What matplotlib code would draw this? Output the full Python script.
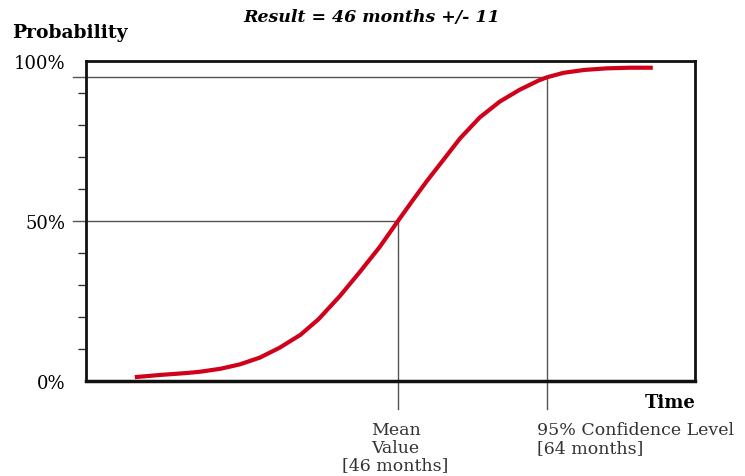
import matplotlib
matplotlib.use("Agg")
import matplotlib.pyplot as plt

plt.rcParams["font.family"] = "DejaVu Serif"

# curve (months, cumulative probability %)
months = [14.2, 17.3, 20.5, 22.1, 24.5, 26.9, 29.3, 31.7, 34.2, 36.4, 39.0, 41.4, 43.8, 46.0,
          47.8, 49.5, 51.1, 53.5, 55.9, 58.3, 60.7, 63.0, 64.0, 66.0, 68.5, 71.2, 74.0, 76.8]
prob = [1.2, 1.9, 2.5, 2.9, 3.8, 5.2, 7.3, 10.4, 14.4, 19.3, 26.6, 34.1, 41.9, 50.0,
        56.5, 62.5, 67.8, 75.8, 82.4, 87.3, 91.0, 93.9, 94.9, 96.3, 97.2, 97.7, 97.9, 97.9]

mean_month, mean_prob = 46, 50
conf_month, conf_prob = 64, 95
ytick_vals = [0, 50, 100]
ytick_labels = ["0%", "50%", "100%"]
minor_vals = [10, 20, 30, 40, 60, 70, 80, 90]

fig = plt.figure(figsize=(7.45, 4.77), dpi=100)
ax = fig.add_axes([86 / 745, 1 - 382 / 477, 609 / 745, 320 / 477])
ax.set_xlim(8.3, 81.9)
ax.set_ylim(0, 100)

ax.plot(months, prob, color="#d0021b", lw=3, solid_capstyle="butt",
        solid_joinstyle="round", zorder=3)

# reference lines
ref = dict(color="#555555", lw=1, clip_on=False, zorder=2)
ax.plot([6.7, conf_month], [conf_prob, conf_prob], **ref)
ax.plot([6.7, mean_month], [mean_prob, mean_prob], **ref)
ax.plot([mean_month, mean_month], [mean_prob, -8.8], **ref)
ax.plot([conf_month, conf_month], [conf_prob, -8.8], **ref)

for s in ax.spines.values():
    s.set_linewidth(2)
    s.set_color("#111111")
ax.spines["bottom"].set_linewidth(2.5)

ax.set_xticks([])
ax.set_yticks(ytick_vals)
ax.set_yticklabels(ytick_labels, fontsize=13)
ax.set_yticks(minor_vals, minor=True)
ax.tick_params(axis="y", which="major", length=0, pad=15)
ax.tick_params(axis="y", which="minor", length=6, width=1, color="#333333")

fig.text(372 / 745, 1 - 18 / 477, "Result = 46 months +/- 11", ha="center", va="center",
         fontsize=12.5, style="italic", fontweight="bold")
fig.text(12 / 745, 1 - 33 / 477, "Probability", ha="left", va="center",
         fontsize=13.5, fontweight="bold")
fig.text(696 / 745, 1 - 403 / 477, "Time", ha="right", va="center",
         fontsize=13, fontweight="bold")

ax.text(mean_month - 0.3, -12.5, "Mean\nValue\n[46 months]", ha="center", va="top",
        fontsize=12.5, color="#333333", linespacing=1.05)
ax.text(conf_month - 1.2, -12.5, "95% Confidence Level\n[64 months]", ha="left", va="top",
        fontsize=12.5, color="#333333", linespacing=1.05)

fig.savefig("out.png", dpi=100)
